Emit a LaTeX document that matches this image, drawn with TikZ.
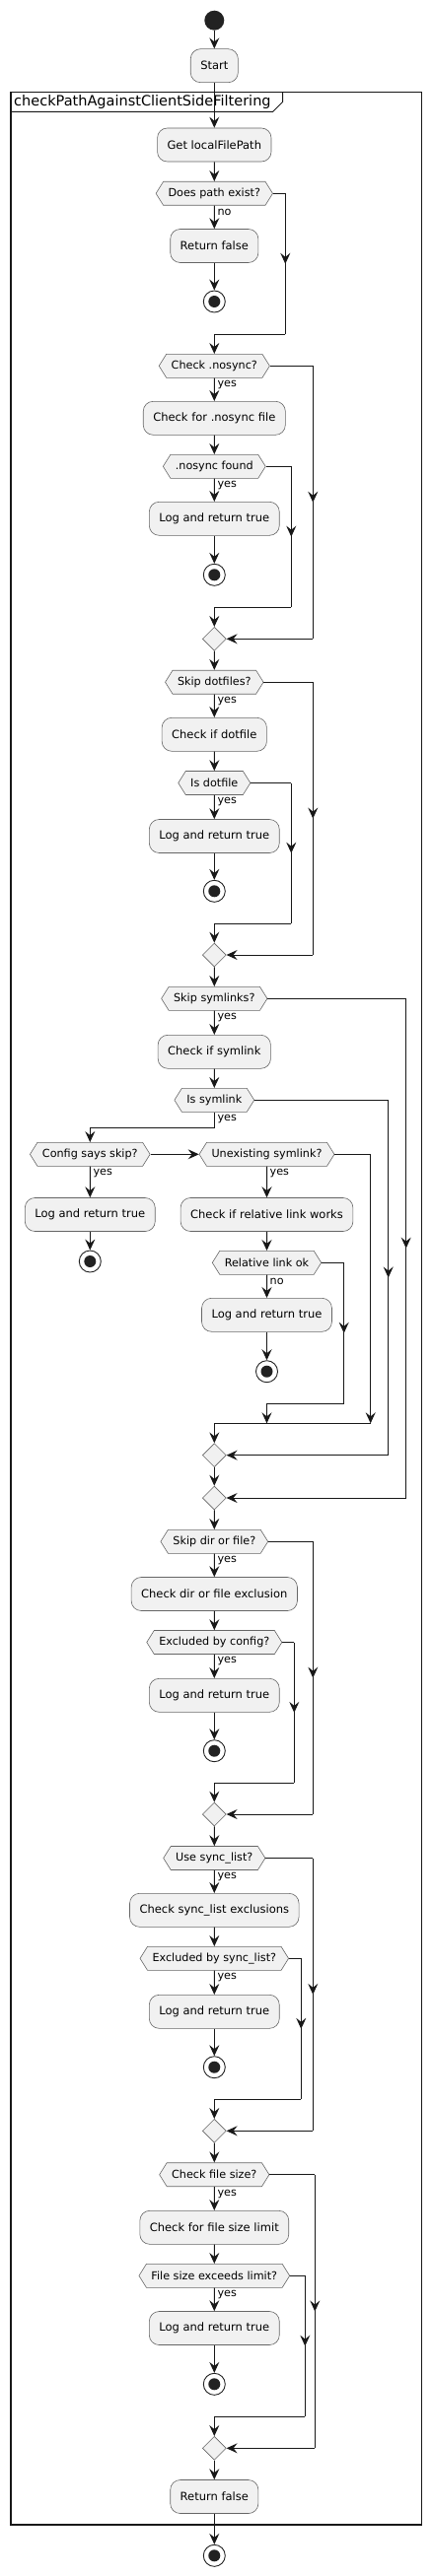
\documentclass[tikz,border=0pt]{standalone}
\usepackage{fontspec}
\setmainfont{DejaVu Sans}
\usetikzlibrary{arrows.meta,shapes.geometric,shapes.symbols,decorations.markings}
\definecolor{boxgray}{HTML}{F1F1F1}
\definecolor{linecol}{HTML}{181818}
\definecolor{dotcol}{HTML}{222222}
\newcommand{\actfont}{\fontsize{11.5}{13}\selectfont}
\newcommand{\hexfont}{\fontsize{11.2}{13}\selectfont}
\newcommand{\framefont}{\fontsize{14.5}{16}\selectfont}

\begin{document}
\begin{tikzpicture}[x=1pt,y=-1pt,
	act/.style={rectangle, rounded corners=10pt, draw=black!60, line width=0.6pt, fill=boxgray, minimum height=34pt, inner xsep=10pt, font=\actfont},
	hexa/.style={signal, signal to=east and west, signal from=nowhere, signal pointer angle=116, draw=black!60, line width=0.6pt, fill=boxgray, minimum height=24pt, inner xsep=5pt, inner ysep=0pt, font=\hexfont},
	merge/.style={diamond, draw=black!60, line width=0.6pt, fill=boxgray, minimum width=24pt, minimum height=24pt, inner sep=0pt},
	startdot/.style={circle, fill=dotcol, minimum size=20pt, inner sep=0pt},
	stopdot/.style={circle, draw=dotcol, line width=0.9pt, fill=white, minimum size=22pt, inner sep=0pt, path picture={\fill[dotcol] (path picture bounding box.center) circle (6pt);}},
	lbl/.style={anchor=base west, font=\hexfont, inner sep=0pt},
	wire/.style={draw=linecol, line width=1pt},
	flow/.style={wire, -{Stealth[length=11pt,width=10pt,inset=4pt]}},
	midarrow/.style={decoration={markings, mark=at position 0.5 with {\arrow{Stealth[length=11pt,width=10pt,inset=4pt]}}}, postaction={decorate}}]
	\useasboundingbox (0,0) rectangle (437,2614);
	\draw[linecol, line width=1.5pt] (11,93.3) rectangle (427.7,2562);
	\draw[linecol, line width=1pt] (11,113.3) -- (276.7,113.3) -- (286.7,103.3) -- (286.7,93.3);
	\node[anchor=base west, font=\framefont, inner sep=0pt] (ftitle) at (14,108) {checkPathAgainstClientSideFiltering};

	\node[startdot] (start) at (217.3,20.7) {};
	\node[act] (a0) at (217.3,66.7) {Start};
	\node[act] (a1) at (217.3,147) {Get localFilePath};
	\node[hexa] (d1) at (217.3,196.3) {Does path exist?};
	\node[lbl] (n1) at ([xshift=3pt,yshift=-9.5pt]d1.south) {no};
	\node[act] (a2) at (217.3,249.5) {Return false};
	\node[stopdot] (e1) at (217.3,306) {};

	\node[hexa] (d2) at (217.3,371.3) {Check .nosync?};
	\node[lbl] (y2) at ([xshift=3pt,yshift=-9pt]d2.south) {yes};
	\node[act] (a3) at (217.3,424.3) {Check for .nosync file};
	\node[hexa] (d3) at (217.3,473.3) {.nosync found};
	\node[lbl] (y3) at ([xshift=3pt,yshift=-9pt]d3.south) {yes};
	\node[act] (a4) at (217.3,526.3) {Log and return true};
	\node[stopdot] (e2) at (217.3,583.3) {};
	\node[merge] (m1) at (217.3,648.3) {};

	\node[hexa] (d4) at (217.3,692.2) {Skip dotfiles?};
	\node[lbl] (y4) at ([xshift=3pt,yshift=-9pt]d4.south) {yes};
	\node[act] (a5) at (217.3,745.3) {Check if dotfile};
	\node[hexa] (d5) at (217.3,794.5) {Is dotfile};
	\node[lbl] (y5) at ([xshift=3pt,yshift=-9pt]d5.south) {yes};
	\node[act] (a6) at (217.3,848.5) {Log and return true};
	\node[stopdot] (e3) at (217.3,904.3) {};
	\node[merge] (m2) at (217.3,969) {};

	\node[hexa] (d6) at (217.3,1013.3) {Skip symlinks?};
	\node[lbl] (y6) at ([xshift=3pt,yshift=-9pt]d6.south) {yes};
	\node[act] (a7) at (217.3,1067.3) {Check if symlink};
	\node[hexa] (d7) at (217.3,1116.3) {Is symlink};
	\node[lbl] (y7) at ([xshift=3pt,yshift=-9pt]d7.south) {yes};
	\node[hexa] (d8) at (91.3,1171.3) {Config says skip?};
	\node[lbl] (y8) at ([xshift=3pt,yshift=-9pt]d8.south) {yes};
	\node[hexa] (d9) at (270.5,1171.3) {Unexisting symlink?};
	\node[lbl] (y9) at ([xshift=3pt,yshift=-9pt]d9.south) {yes};
	\node[act] (a8) at (91.3,1232.5) {Log and return true};
	\node[stopdot] (e4) at (91.3,1280) {};
	\node[act] (a9) at (270.5,1232.5) {Check if relative link works};
	\node[hexa] (d10) at (270.5,1281.3) {Relative link ok};
	\node[lbl] (n10) at ([xshift=3pt,yshift=-9.5pt]d10.south) {no};
	\node[act] (a10) at (270.5,1334.3) {Log and return true};
	\node[stopdot] (e5) at (270.5,1391.7) {};
	\node[merge] (m3) at (217.3,1476.7) {};
	\node[merge] (m4) at (217.3,1520) {};

	\node[hexa] (d11) at (217.3,1564.3) {Skip dir or file?};
	\node[lbl] (y11) at ([xshift=3pt,yshift=-9pt]d11.south) {yes};
	\node[act] (a11) at (217.3,1617.5) {Check dir or file exclusion};
	\node[hexa] (d12) at (217.3,1666.5) {Excluded by config?};
	\node[lbl] (y12) at ([xshift=3pt,yshift=-9pt]d12.south) {yes};
	\node[act] (a12) at (217.3,1720.3) {Log and return true};
	\node[stopdot] (e6) at (217.3,1776.7) {};
	\node[merge] (m5) at (217.3,1841) {};

	\node[hexa] (d13) at (217.3,1885.5) {Use sync\_list?};
	\node[lbl] (y13) at ([xshift=3pt,yshift=-9pt]d13.south) {yes};
	\node[act] (a13) at (217.3,1938.3) {Check sync\_list exclusions};
	\node[hexa] (d14) at (217.3,1987.3) {Excluded by sync\_list?};
	\node[lbl] (y14) at ([xshift=3pt,yshift=-9pt]d14.south) {yes};
	\node[act] (a14) at (217.3,2041.3) {Log and return true};
	\node[stopdot] (e7) at (217.3,2097.7) {};
	\node[merge] (m6) at (217.3,2162.3) {};

	\node[hexa] (d15) at (217.3,2206.7) {Check file size?};
	\node[lbl] (y15) at ([xshift=3pt,yshift=-9pt]d15.south) {yes};
	\node[act] (a15) at (217.3,2260.3) {Check for file size limit};
	\node[hexa] (d16) at (217.3,2309.3) {File size exceeds limit?};
	\node[lbl] (y16) at ([xshift=3pt,yshift=-9pt]d16.south) {yes};
	\node[act] (a16) at (217.3,2362.5) {Log and return true};
	\node[stopdot] (e8) at (217.3,2419.3) {};
	\node[merge] (m7) at (217.3,2484.3) {};
	\node[act] (a17) at (217.3,2533.5) {Return false};
	\node[stopdot] (e9) at (217.3,2593.3) {};

	\coordinate (b1) at (289.3,339.3);
	\coordinate (b2) at (317.3,648.3);
	\coordinate (b3) at (295.3,616);
	\coordinate (b4) at (317.3,969);
	\coordinate (b5) at (295.3,937);
	\coordinate (b6) at (411.7,1520);
	\coordinate (b7) at (393.7,1476.7);
	\coordinate (k1) at (217.3,1144);
	\coordinate (b9) at (375.7,1444.3);
	\coordinate (b10) at (348.7,1424.3);
	\coordinate (j1) at (270.5,1444.3);
	\coordinate (b11) at (317.3,1841);
	\coordinate (b12) at (298.3,1809.3);
	\coordinate (b13) at (317.3,2162.3);
	\coordinate (b14) at (305.3,2130.3);
	\coordinate (b15) at (319.3,2484.3);
	\coordinate (b16) at (309.3,2452);

	\draw[flow] (start) -- (a0);
	\draw[flow] (a0) -- (a1);
	\draw[flow] (a1) -- (d1);
	\draw[flow] (d1) -- (a2);
	\draw[flow] (a2) -- (e1);
	\draw[wire] (d1.east) -- (d1.east -| b1);
	\draw[wire,midarrow] (d1.east -| b1) -- (b1);
	\draw[flow] (b1) -| (d2.north);

	\draw[flow] (d2) -- (a3);
	\draw[flow] (a3) -- (d3);
	\draw[flow] (d3) -- (a4);
	\draw[flow] (a4) -- (e2);
	\draw[wire] (d3.east) -- (d3.east -| b3);
	\draw[wire,midarrow] (d3.east -| b3) -- (b3);
	\draw[flow] (b3) -| (m1.north);
	\draw[wire] (d2.east) -- (d2.east -| b2);
	\draw[wire,midarrow] (d2.east -| b2) -- (b2);
	\draw[flow] (b2) -- (m1.east);
	\draw[flow] (m1) -- (d4);

	\draw[flow] (d4) -- (a5);
	\draw[flow] (a5) -- (d5);
	\draw[flow] (d5) -- (a6);
	\draw[flow] (a6) -- (e3);
	\draw[wire] (d5.east) -- (d5.east -| b5);
	\draw[wire,midarrow] (d5.east -| b5) -- (b5);
	\draw[flow] (b5) -| (m2.north);
	\draw[wire] (d4.east) -- (d4.east -| b4);
	\draw[wire,midarrow] (d4.east -| b4) -- (b4);
	\draw[flow] (b4) -- (m2.east);
	\draw[flow] (m2) -- (d6);

	\draw[flow] (d6) -- (a7);
	\draw[flow] (a7) -- (d7);
	\draw[flow] (d7.south) -- (k1) -| (d8.north);
	\draw[flow] (d8) -- (a8);
	\draw[flow] (a8) -- (e4);
	\draw[flow] (d8.east) -- (d9.west);
	\draw[flow] (d9) -- (a9);
	\draw[flow] (a9) -- (d10);
	\draw[flow] (d10) -- (a10);
	\draw[flow] (a10) -- (e5);
	\draw[wire] (d10.east) -- (d10.east -| b10);
	\draw[wire,midarrow] (d10.east -| b10) -- (b10);
	\draw[flow] (b10) -| (j1);
	\draw[flow] (d9.east) -| (b9);
	\draw[flow] (b9) -| (m3.north);
	\draw[wire] (d7.east) -- (d7.east -| b7);
	\draw[wire,midarrow] (d7.east -| b7) -- (b7);
	\draw[flow] (b7) -- (m3.east);
	\draw[flow] (m3) -- (m4);
	\draw[wire] (d6.east) -- (d6.east -| b6);
	\draw[wire,midarrow] (d6.east -| b6) -- (b6);
	\draw[flow] (b6) -- (m4.east);
	\draw[flow] (m4) -- (d11);

	\draw[flow] (d11) -- (a11);
	\draw[flow] (a11) -- (d12);
	\draw[flow] (d12) -- (a12);
	\draw[flow] (a12) -- (e6);
	\draw[wire] (d12.east) -- (d12.east -| b12);
	\draw[wire,midarrow] (d12.east -| b12) -- (b12);
	\draw[flow] (b12) -| (m5.north);
	\draw[wire] (d11.east) -- (d11.east -| b11);
	\draw[wire,midarrow] (d11.east -| b11) -- (b11);
	\draw[flow] (b11) -- (m5.east);
	\draw[flow] (m5) -- (d13);

	\draw[flow] (d13) -- (a13);
	\draw[flow] (a13) -- (d14);
	\draw[flow] (d14) -- (a14);
	\draw[flow] (a14) -- (e7);
	\draw[wire] (d14.east) -- (d14.east -| b14);
	\draw[wire,midarrow] (d14.east -| b14) -- (b14);
	\draw[flow] (b14) -| (m6.north);
	\draw[wire] (d13.east) -- (d13.east -| b13);
	\draw[wire,midarrow] (d13.east -| b13) -- (b13);
	\draw[flow] (b13) -- (m6.east);
	\draw[flow] (m6) -- (d15);

	\draw[flow] (d15) -- (a15);
	\draw[flow] (a15) -- (d16);
	\draw[flow] (d16) -- (a16);
	\draw[flow] (a16) -- (e8);
	\draw[wire] (d16.east) -- (d16.east -| b16);
	\draw[wire,midarrow] (d16.east -| b16) -- (b16);
	\draw[flow] (b16) -| (m7.north);
	\draw[wire] (d15.east) -- (d15.east -| b15);
	\draw[wire,midarrow] (d15.east -| b15) -- (b15);
	\draw[flow] (b15) -- (m7.east);
	\draw[flow] (m7) -- (a17);
	\draw[flow] (a17) -- (e9);
\end{tikzpicture}
\end{document}
